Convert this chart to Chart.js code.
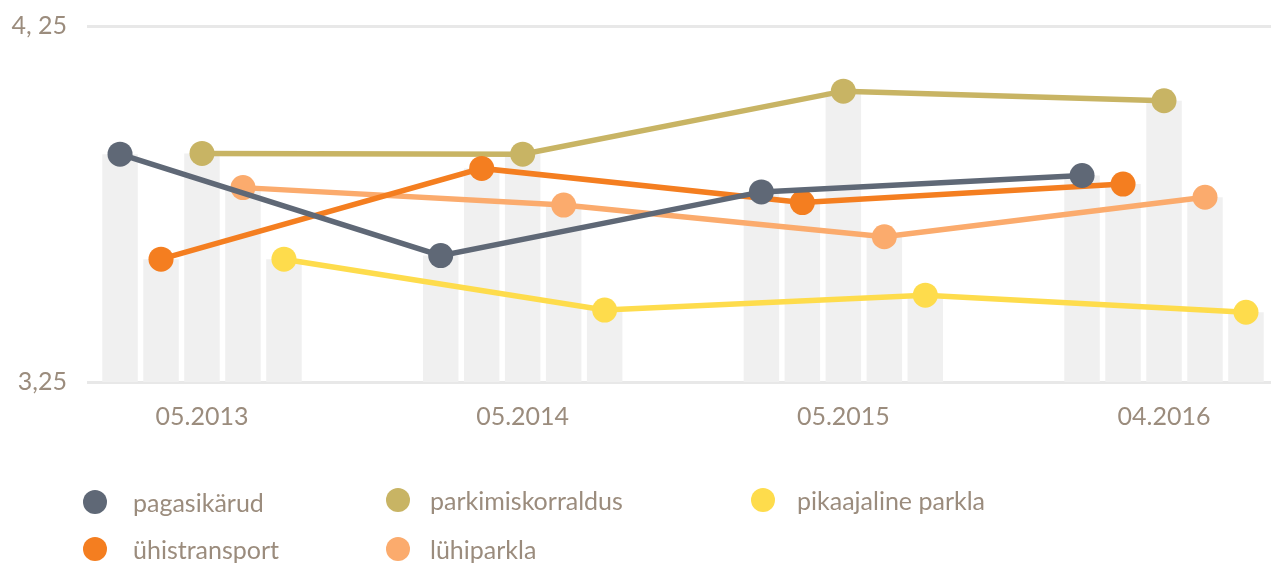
<!DOCTYPE html>
<html>
<head>
<meta charset="utf-8">
<script src="https://cdn.jsdelivr.net/npm/chart.js@4.4.1/dist/chart.umd.min.js"></script>
<style>
  body { margin: 0; background: #fff; }
  #wrap { position: relative; width: 1271px; height: 569px; font-family: Lato, sans-serif; }
  #chart { position: absolute; left: 0; top: 0; }
  .item { position: absolute; display: flex; align-items: center; color: #9b8c7d; font-size: 25px; }
  .dot { width: 24px; height: 24px; border-radius: 50%; position: absolute; top: 50%; margin-top: -12px; }
</style>
</head>
<body>
<div id="wrap">
  <canvas id="chart" width="1271" height="569"></canvas>
  <div id="legend"></div>
</div>
<script>
// Categories and tick labels
const categories = ['05.2013', '05.2014', '05.2015', '04.2016'];
const yTicks = [3.25, 4.25];
const yTickLabels = ['3,25', '4, 25'];

// Series values, one per category
const pagasikarud = [3.89, 3.605, 3.784, 3.83];
const yhistransport = [3.595, 3.85, 3.754, 3.806];
const parkimiskorraldus = [3.892, 3.89, 4.067, 4.04];
const luhiparkla = [3.796, 3.747, 3.658, 3.769];
const pikaajaline = [3.595, 3.452, 3.494, 3.446];

// Series in bar order within a category
const series = [
  { label: 'pagasikärud', data: pagasikarud, color: '#5f6876' },
  { label: 'ühistransport', data: yhistransport, color: '#f47e20' },
  { label: 'parkimiskorraldus', data: parkimiskorraldus, color: '#c8b464' },
  { label: 'lühiparkla', data: luhiparkla, color: '#fbab6d' },
  { label: 'pikaajaline parkla', data: pikaajaline, color: '#fedc4c' }
];

const textColor = '#9b8c7d';
const categoryPercentage = 0.639;
const barPercentage = 0.866;

// offset of each series' bar centre inside a category, in category units
const slot = categoryPercentage / series.length;
const offsetFor = (k) => (k - (series.length - 1) / 2) * slot;

const lineSets = series.map((s, k) => ({
  type: 'line',
  label: s.label,
  data: s.data.map((v, i) => ({ x: i + offsetFor(k), y: v })),
  borderColor: s.color,
  backgroundColor: s.color,
  borderWidth: 5.5,
  pointRadius: 12.5,
  pointHoverRadius: 12.5,
  pointBorderWidth: 0,
  tension: 0,
  order: 1,
  clip: false
}));

const barSets = series.map((s) => ({
  type: 'bar',
  label: s.label + ' bar',
  data: s.data.map((v, i) => ({ x: i, y: v })),
  backgroundColor: '#f0f0f0',
  borderWidth: 0,
  categoryPercentage,
  barPercentage,
  order: 2
}));

// drop the label overflow padding, the layout padding places the plot
const noPad = (scale) => {
  scale.paddingTop = 0;
  scale.paddingBottom = 0;
  scale.paddingLeft = 0;
  scale.paddingRight = 0;
};

new Chart(document.getElementById('chart'), {
  data: { datasets: [...lineSets, ...barSets] },
  options: {
    responsive: false,
    animation: false,
    layout: { autoPadding: false, padding: { top: 26, left: 0, right: 0, bottom: 127 } },
    plugins: { legend: { display: false }, tooltip: { enabled: false } },
    scales: {
      x: {
        type: 'linear',
        offset: false,
        min: -0.3586,
        max: 3.3336,
        grid: { display: false, offset: false },
        border: { display: false },
        afterBuildTicks: (scale) => {
          scale.ticks = categories.map((_, i) => ({ value: i }));
        },
        afterFit: (scale) => { scale.height = 60; noPad(scale); },
        ticks: {
          color: textColor,
          padding: 12,
          maxRotation: 0,
          autoSkip: false,
          font: { family: 'Lato', size: 25 },
          callback: (value) => categories[value]
        }
      },
      y: {
        min: 3.25,
        max: 4.25,
        afterBuildTicks: (scale) => {
          scale.ticks = yTicks.map((v) => ({ value: v }));
        },
        afterFit: (scale) => { scale.width = 87; noPad(scale); },
        grid: { color: '#e8e8e8', lineWidth: 3, drawTicks: false },
        border: { display: false },
        ticks: {
          color: textColor,
          padding: 20,
          font: { family: 'Lato', size: 25 },
          callback: (value) => yTickLabels[yTicks.indexOf(value)]
        }
      }
    }
  }
});

// Legend laid out in columns, two rows
const legendPos = [
  { x: 95, y: 502, tx: 133 },
  { x: 95, y: 549, tx: 133 },
  { x: 398, y: 500, tx: 430 },
  { x: 398, y: 549, tx: 430 },
  { x: 763, y: 500, tx: 797 }
];
const legend = document.getElementById('legend');
series.forEach((s, k) => {
  const p = legendPos[k];
  const item = document.createElement('div');
  item.className = 'item';
  item.style.left = (p.x - 12) + 'px';
  item.style.top = (p.y - 16) + 'px';
  item.style.height = '32px';
  item.style.paddingLeft = (p.tx - p.x + 12) + 'px';
  const dot = document.createElement('span');
  dot.className = 'dot';
  dot.style.left = '0px';
  dot.style.background = s.color;
  item.appendChild(dot);
  item.appendChild(document.createTextNode(s.label));
  legend.appendChild(item);
});
</script>
</body>
</html>
